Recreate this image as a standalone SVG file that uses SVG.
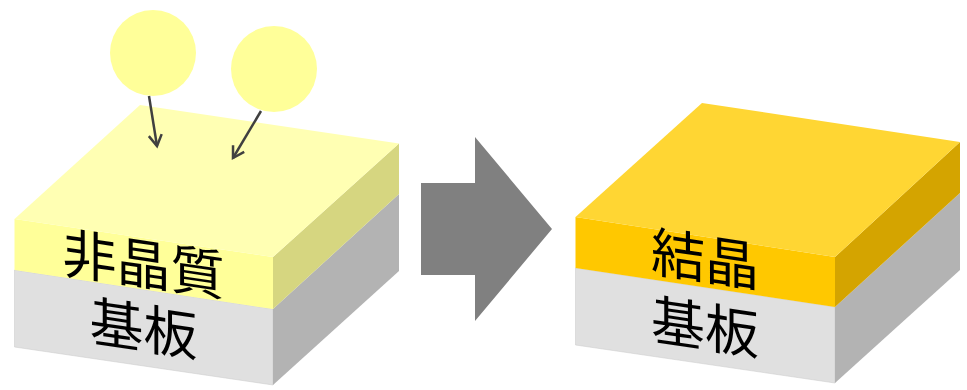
<svg xmlns="http://www.w3.org/2000/svg" width="967" height="390" viewBox="0 0 967 390">
  <style>
    .label { font-family: "Noto Sans CJK JP", "Noto Sans CJK SC", sans-serif; font-size: 54px; fill: #000; text-anchor: middle; }
    .front { fill: #e0e0e0; stroke: #c8c8c8; stroke-width: .5; }
    .side { fill: #b3b3b3; }
    .particle { fill: #ffff99; }
    .link { fill: none; stroke: #404040; stroke-width: 2.5; }
  </style>
  <defs>
    <marker id="head" viewBox="0 0 18 18" refX="14.500" refY="9" markerWidth="18" markerHeight="18" markerUnits="userSpaceOnUse" orient="auto">
      <path d="M3.500 2.500 L14.500 9 L3.500 15.500" fill="none" stroke="#404040" stroke-width="2.5"/>
    </marker>
  </defs>

  <!-- substrate coated with the amorphous film -->
  <g id="amorphous-block">
    <polygon class="front" points="14.5,270 273,309 273,385 14.5,347"/>
    <polygon class="side" points="273,309 399,194 399,271 273,385"/>
    <polygon fill="#ffff99" points="14.5,219 273,257 273,309 14.5,270"/>
    <polygon fill="#d6d680" points="273,257 399,143.500 399,194 273,309"/>
    <polygon fill="#ffffb3" points="14.5,219 140,105 399,143.500 273,257"/>
    <text class="label" transform="matrix(1 .147 0 1 143.500 284)">非晶質</text>
    <text class="label" transform="matrix(1 .147 0 1 143.500 348.500)">基板</text>
  </g>

  <g id="particle-1"><circle class="particle" cx="153" cy="53" r="43"/></g>
  <g id="particle-2"><circle class="particle" cx="274" cy="69" r="43"/></g>

  <g id="process-arrow">
    <polygon fill="#808080" points="421,183 475,183 475,137 552,229 475,321 475,275 421,275"/>
  </g>

  <!-- the same substrate after crystallisation -->
  <g id="crystal-block">
    <polygon class="front" points="575.500,268 835,307 835,383 575.500,345"/>
    <polygon class="side" points="835,307 960,193 960,270 835,383"/>
    <polygon fill="#ffc800" points="575.500,217 835,257 835,307 575.500,268"/>
    <polygon fill="#d4a400" points="835,257 960,142 960,193 835,307"/>
    <polygon fill="#ffd633" points="575.500,217 702,103 960,142 835,257"/>
    <text class="label" transform="matrix(1 .147 0 1 705 279)">結晶</text>
    <text class="label" transform="matrix(1 .147 0 1 705 347)">基板</text>
  </g>

  <g id="connectors">
    <line class="link" x1="149" y1="96" x2="157" y2="146" marker-end="url(#head)"/>
    <line class="link" x1="261" y1="111" x2="233" y2="158" marker-end="url(#head)"/>
  </g>
</svg>
